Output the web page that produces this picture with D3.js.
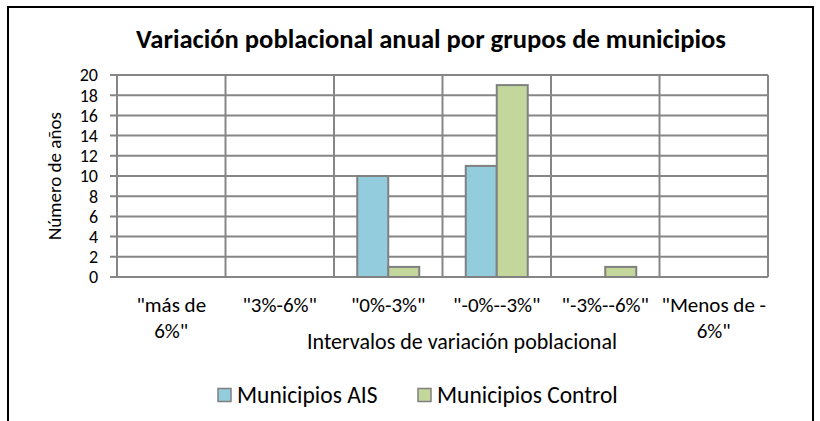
<!DOCTYPE html>
<html>
<head>
<meta charset="utf-8">
<script src="https://cdn.jsdelivr.net/npm/d3@7"></script>
<style>
  body { margin: 0; background: #fff; }
  svg text { font-family: Carlito, Lato, "Open Sans", sans-serif; fill: #000; }
</style>
</head>
<body>
<div id="chart"></div>
<script>
const width = 820, height = 421;

// data
const categories = ['"más de 6%"', '"3%-6%"', '"0%-3%"', '"-0%--3%"', '"-3%--6%"', '"Menos de - 6%"'];
const categoryLines = [['"más de', '6%"'], ['"3%-6%"'], ['"0%-3%"'], ['"-0%--3%"'], ['"-3%--6%"'], ['"Menos de -', '6%"']];
const seriesNames = ["Municipios AIS", "Municipios Control"];
const aisValues = [0, 0, 10, 11, 0, 0];
const controlValues = [0, 0, 1, 19, 1, 0];
const yTicks = [0, 2, 4, 6, 8, 10, 12, 14, 16, 18, 20];
const colors = ["#93CDDD", "#C3D69B"];

const plot = {left: 117, right: 768, top: 75, bottom: 277};

const svg = d3.select("#chart").append("svg")
    .attr("width", width)
    .attr("height", height);

// outer frame
svg.append("rect")
    .attr("x", 8).attr("y", 7)
    .attr("width", 805).attr("height", 430)
    .attr("fill", "none")
    .attr("stroke", "#000")
    .attr("stroke-width", 2);

svg.append("text")
    .attr("x", 431).attr("y", 48)
    .attr("text-anchor", "middle")
    .attr("font-size", 26.6)
    .attr("font-weight", "bold")
    .text("Variación poblacional anual por grupos de municipios");

const x = d3.scaleBand()
    .domain(categories)
    .range([plot.left, plot.right]);

const y = d3.scaleLinear()
    .domain([0, 20])
    .range([plot.bottom, plot.top]);

const grid = svg.append("g")
    .attr("stroke", "#868686")
    .attr("stroke-width", 2);

// horizontal grid lines
grid.selectAll(".h")
    .data(yTicks)
    .join("line")
    .attr("x1", plot.left - 7)
    .attr("x2", plot.right)
    .attr("y1", d => y(d))
    .attr("y2", d => y(d));

// vertical lines at category edges
grid.selectAll(".v")
    .data(categories.concat(["end"]))
    .join("line")
    .attr("x1", (d, i) => i < categories.length ? x(d) : plot.right)
    .attr("x2", (d, i) => i < categories.length ? x(d) : plot.right)
    .attr("y1", plot.top)
    .attr("y2", plot.bottom);

// y tick labels
svg.append("g")
    .selectAll("text")
    .data(yTicks)
    .join("text")
    .attr("x", 98)
    .attr("y", d => y(d))
    .attr("dy", "0.36em")
    .attr("text-anchor", "end")
    .attr("font-size", 18)
    .text(d => d);

svg.append("text")
    .attr("transform", "translate(61," + ((plot.top + plot.bottom) / 2) + ") rotate(-90)")
    .attr("text-anchor", "middle")
    .attr("font-size", 19)
    .text("Número de años");

// bars
const xSub = d3.scaleBand()
    .domain(seriesNames)
    .range([0, 62]);

const rows = categories.map((c, i) => ({cat: c, values: [aisValues[i], controlValues[i]]}));

const groups = svg.append("g")
    .selectAll("g")
    .data(rows)
    .join("g")
    .attr("transform", d => "translate(" + (x(d.cat) + x.bandwidth() / 2 - 31) + ",0)");

groups.selectAll("rect")
    .data(d => d.values.map((v, j) => ({name: seriesNames[j], value: v, j: j})).filter(e => e.value > 0))
    .join("rect")
    .attr("x", d => xSub(d.name))
    .attr("width", xSub.bandwidth())
    .attr("y", d => y(d.value))
    .attr("height", d => y(0) - y(d.value))
    .attr("fill", d => colors[d.j])
    .attr("stroke", "#808080")
    .attr("stroke-width", 2);

// category labels
const catLabels = svg.append("g")
    .selectAll("text")
    .data(categories)
    .join("text")
    .attr("text-anchor", "middle")
    .attr("font-size", 21)
    .attr("x", d => x(d) + x.bandwidth() / 2)
    .attr("y", 312);

catLabels.selectAll("tspan")
    .data((d, i) => categoryLines[i])
    .join("tspan")
    .attr("x", function() { return d3.select(this.parentNode).attr("x"); })
    .attr("dy", (d, i) => i === 0 ? 0 : 26)
    .text(d => d);

svg.append("text")
    .attr("x", 462).attr("y", 349)
    .attr("text-anchor", "middle")
    .attr("font-size", 22)
    .text("Intervalos de variación poblacional");

// legend
const legendX = [218, 418];
const legend = svg.append("g")
    .selectAll("g")
    .data(seriesNames)
    .join("g")
    .attr("transform", (d, i) => "translate(" + legendX[i] + ",395)");

legend.append("rect")
    .attr("x", 0).attr("y", -6.5)
    .attr("width", 13).attr("height", 13)
    .attr("fill", (d, i) => colors[i])
    .attr("stroke", "#808080")
    .attr("stroke-width", 1.5);

legend.append("text")
    .attr("x", 19)
    .attr("dy", "0.36em")
    .attr("font-size", 23.5)
    .text(d => d);
</script>
</body>
</html>
